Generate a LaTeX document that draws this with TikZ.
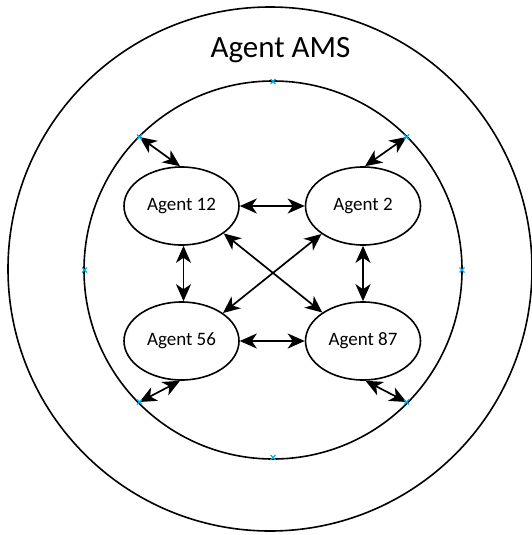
\documentclass[tikz,border=0pt]{standalone}
\usepackage{fontspec}
\setmainfont{Carlito}
\usetikzlibrary{shapes.geometric,arrows.meta}
\definecolor{markblue}{RGB}{0,176,240}
\tikzset{
  agent/.style={draw, ellipse, line width=1.6pt, minimum width=115pt, minimum height=78pt, inner sep=0pt, font=\fontsize{19}{22}\selectfont},
  ring/.style={draw, circle, line width=1.6pt, inner sep=0pt},
  biarrow/.style={line width=1.7pt, {Stealth[length=17pt,width=15pt,inset=5pt]}-{Stealth[length=17pt,width=15pt,inset=5pt]}},
  bluemark/.style={markblue, line width=1.2pt},
}
\begin{document}
\begin{tikzpicture}[x=1pt,y=-1pt]
\useasboundingbox (0,0) rectangle (532,535);
% rings
\node[ring, minimum size=524pt, outer sep=0pt] (outer) at (270,269) {};
\node[ring, minimum size=378pt, outer sep=0pt] (inner) at (273,270) {};
% title
\node[font=\fontsize{31}{36}\selectfont, inner sep=0pt] (title) at (280.5,50) {Agent AMS};
% agents
\node[agent] (a12) at (181.5,206) {Agent 12};
\node[agent] (a2)  at (363,206) {Agent 2};
\node[agent] (a56) at (181.5,341) {Agent 56};
\node[agent] (a87) at (363,341) {Agent 87};
% marker points on the inner ring
\coordinate (mT)  at (273,81.5);
\coordinate (mB)  at (273,457.5);
\coordinate (mL)  at (84.5,270);
\coordinate (mR)  at (462,270);
\coordinate (mTL) at (139.5,137);
\coordinate (mTR) at (406.5,137);
\coordinate (mBL) at (139.5,402);
\coordinate (mBR) at (406.5,402);
% connectors
\draw[biarrow] (a12.east) -- (a2.west);
\draw[biarrow] (a56.east) -- (a87.west);
\draw[biarrow] ([xshift=2pt]a12.south) -- ([xshift=2pt]a56.north);
\draw[biarrow] (a2.south) -- (a87.north);
\draw[biarrow] (a12.-33) -- (a87.145);
\draw[biarrow] (a2.214) -- (a56.34);
\draw[biarrow] (mTL) -- ([xshift=-1.5pt]a12.north);
\draw[biarrow] (mTR) -- ([xshift=2pt]a2.north);
\draw[biarrow] (mBL) -- ([xshift=-1.5pt]a56.south);
\draw[biarrow] (mBR) -- ([xshift=2.5pt]a87.south);
% blue markers
\foreach \m in {mT,mB,mL,mR,mTL,mTR,mBL,mBR}{
  \draw[bluemark] ([shift={(-2.5pt,-2.5pt)}]\m) -- ([shift={(2.5pt,2.5pt)}]\m);
  \draw[bluemark] ([shift={(-2.5pt,2.5pt)}]\m) -- ([shift={(2.5pt,-2.5pt)}]\m);
}
\end{tikzpicture}
\end{document}
